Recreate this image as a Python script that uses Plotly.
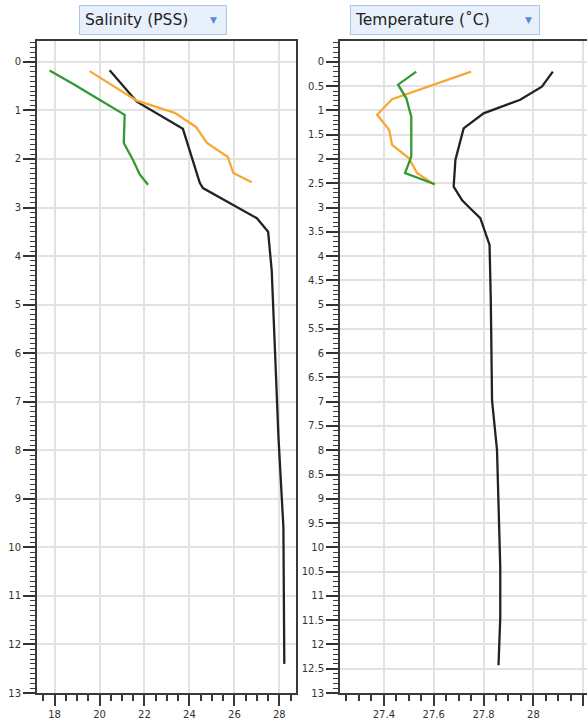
import plotly.graph_objects as go

# ---- data ----
sal_black_depth = [0.175, 0.82, 1.38, 1.96, 2.49, 2.6, 2.91, 3.22, 3.5, 4.08, 4.3, 6.0, 7.73, 9.59, 11.16, 12.4]
sal_black = [20.45, 21.66, 23.71, 24.11, 24.46, 24.6, 25.8, 27.0, 27.5, 27.63, 27.66, 27.81, 27.96, 28.18, 28.22, 28.22]

sal_orange_depth = [0.19, 0.8, 1.05, 1.34, 1.67, 1.96, 2.29, 2.48]
sal_orange = [19.56, 21.66, 23.35, 24.29, 24.78, 25.71, 25.95, 26.77]

sal_green_depth = [0.18, 0.47, 0.78, 1.09, 1.67, 2.02, 2.32, 2.53]
sal_green = [17.78, 18.89, 20.0, 21.12, 21.08, 21.49, 21.79, 22.16]

tmp_black_depth = [0.2, 0.51, 0.78, 1.06, 1.37, 2.02, 2.57, 2.85, 3.02, 3.22, 3.77, 4.9, 6.97, 8.0, 10.41, 11.44, 12.43]
tmp_black = [28.078, 28.034, 27.947, 27.8, 27.72, 27.687, 27.68, 27.714, 27.747, 27.787, 27.824, 27.829, 27.834, 27.854, 27.867, 27.867, 27.86]

tmp_orange_depth = [0.2, 0.77, 1.09, 1.4, 1.71, 1.98, 2.29, 2.52]
tmp_orange = [27.75, 27.433, 27.373, 27.421, 27.433, 27.5, 27.533, 27.6]

tmp_green_depth = [0.2, 0.47, 0.75, 1.13, 1.95, 2.29, 2.52]
tmp_green = [27.53, 27.457, 27.49, 27.51, 27.51, 27.485, 27.605]

panel_titles = ["Salinity (PSS)", "Temperature (˚C)"]

BLACK = "#222222"
ORANGE = "#f7a832"
GREEN = "#339a33"
LW = 2.3

fig = go.Figure()
for x, y, c in [(sal_black, sal_black_depth, BLACK), (sal_orange, sal_orange_depth, ORANGE), (sal_green, sal_green_depth, GREEN)]:
    fig.add_trace(go.Scatter(x=x, y=y, mode="lines", line=dict(color=c, width=LW), xaxis="x", yaxis="y", showlegend=False))
for x, y, c in [(tmp_black, tmp_black_depth, BLACK), (tmp_orange, tmp_orange_depth, ORANGE), (tmp_green, tmp_green_depth, GREEN)]:
    fig.add_trace(go.Scatter(x=x, y=y, mode="lines", line=dict(color=c, width=LW), xaxis="x2", yaxis="y2", showlegend=False))

FONT = "DejaVu Sans"
tickfont = dict(family=FONT, size=10, color="#333333")
AX = "#3a3a3a"
GRID = "#e2e2e2"

L, R, T, B = 37, 0, 41, 32
W, H = 587, 725
pw = W - L - R
ph = H - T - B
def px(x):
    return (x - L) / pw
def py(y):
    return (H - B - y) / ph

d1 = [0, px(296)]
d2 = [px(340), 1]
YR = [13, -0.43]
SR = [17.22, 28.74]
TR = [27.224, 28.215]

common_x = dict(ticks="outside", ticklen=11, tickwidth=1.5, tickcolor=AX, showline=True, linecolor=AX,
                linewidth=1.5, showgrid=True, gridcolor=GRID, gridwidth=1.5, zeroline=False, tickfont=tickfont,
                fixedrange=True)
common_y = dict(ticks="outside", ticklen=12, tickwidth=1.5, tickcolor="#333333", showline=True, linecolor=AX,
                linewidth=2, showgrid=True, gridcolor=GRID, gridwidth=1.5, zeroline=False, tickfont=tickfont,
                autorange=False, range=YR, fixedrange=True)
yminor = dict(ticks="outside", ticklen=5, tick0=0, dtick=0.1, tickcolor="#3c3c3c", tickwidth=1.3, showgrid=False)

fig.update_layout(
    width=W, height=H,
    margin=dict(l=L, r=R, t=T, b=B, pad=0),
    paper_bgcolor="white", plot_bgcolor="white",
    xaxis=dict(domain=d1, anchor="y", range=SR, tick0=18, dtick=2, mirror=True,
               minor=dict(ticks="outside", ticklen=6, tick0=18, dtick=0.5, tickcolor=AX, tickwidth=1.5, showgrid=False),
               **common_x),
    yaxis=dict(domain=[0, 1], anchor="x", tick0=0, dtick=1, mirror=True, minor=yminor, **common_y),
    xaxis2=dict(domain=d2, anchor="y2", range=TR, tick0=27.4, dtick=0.2, mirror=True,
                minor=dict(ticks="outside", ticklen=6, tick0=27.4, dtick=0.05, tickcolor=AX, tickwidth=1.5, showgrid=False),
                **common_x),
    yaxis2=dict(domain=[0, 1], anchor="x2", tick0=0, dtick=0.5, mirror=False, minor=yminor, **common_y),
)

boxes = [(panel_titles[0], 78.5, 146, 213), (panel_titles[1], 350, 188, 528)]
ann = []
for text, left, width, tri in boxes:
    ann.append(dict(text="&nbsp;" + text, xref="paper", yref="paper", x=px(left), y=py(20), xanchor="left",
                    yanchor="middle", width=width, height=28, align="left", showarrow=False,
                    bgcolor="#e8f0fb", bordercolor="#a9c5ea", borderwidth=1, borderpad=0,
                    font=dict(family=FONT, size=15.5, color="#222222")))
    ann.append(dict(text="▼", xref="paper", yref="paper", x=px(tri), y=py(20), xanchor="center",
                    yanchor="middle", showarrow=False, font=dict(family=FONT, size=9, color="#5b8bd6")))
fig.update_layout(annotations=ann)

fig.write_html("out.html", config=dict(displayModeBar=False))
